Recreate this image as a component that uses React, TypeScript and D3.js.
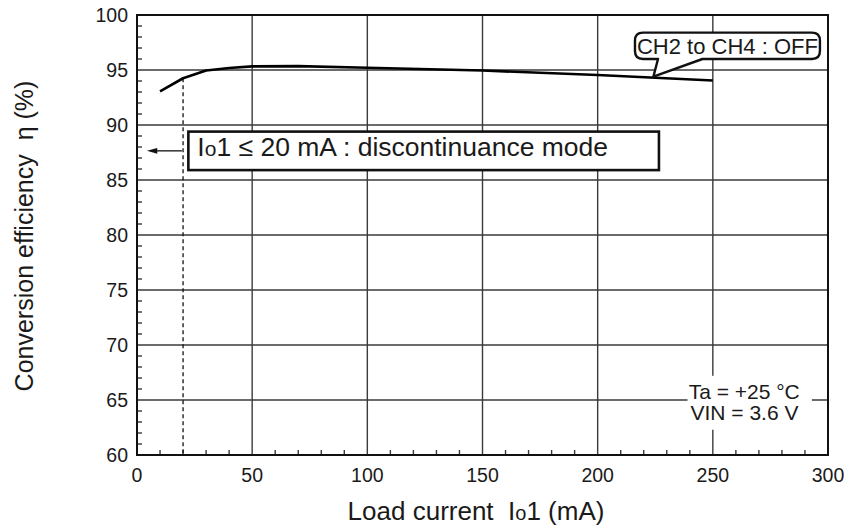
// D3.js — Conversion efficiency vs load current
import React from "react";
import * as d3 from "d3";

const loadCurrent = [10, 20, 30, 40, 50, 70, 100, 150, 200, 250];
const efficiency = [93.05, 94.25, 94.95, 95.18, 95.33, 95.35, 95.2, 94.95, 94.55, 94.05];

const xTicks = [0, 50, 100, 150, 200, 250, 300];
const yTicks = [60, 65, 70, 75, 80, 85, 90, 95, 100];
const xMinor = d3.range(10, 300, 10).filter(v => v % 50 !== 0);
const yMinor = d3.range(61, 100, 1).filter(v => v % 5 !== 0);

const FONT = "'Liberation Sans', Arial, Helvetica, sans-serif";

const App: React.FC = () => {
  const W = 852, H = 532;
  const margin = { top: 15, right: 24, bottom: 77, left: 137 };
  const innerW = W - margin.left - margin.right;
  const innerH = H - margin.top - margin.bottom;

  const x = d3.scaleLinear().domain([0, 300]).range([0, innerW]);
  const y = d3.scaleLinear().domain([60, 100]).range([innerH, 0]);

  const pts = loadCurrent.map((v, i) => ({ x: v, y: efficiency[i] }));
  const line = d3.line<{ x: number; y: number }>()
    .x(d => x(d.x)).y(d => y(d.y))
    .curve(d3.curveLinear);

  // callout "CH2 to CH4 : OFF"
  const cx0 = x(216.2), cx1 = x(296.5), cy0 = y(98.4), cy1 = y(96.0), r = 8;
  const tb1 = x(226.2), tb2 = x(245.5), ax = x(224.2), ay = y(94.4);
  const callout = `M${cx0 + r},${cy0} H${cx1 - r} Q${cx1},${cy0} ${cx1},${cy0 + r} V${cy1 - r} Q${cx1},${cy1} ${cx1 - r},${cy1} H${tb2} L${ax},${ay} L${tb1},${cy1} H${cx0 + r} Q${cx0},${cy1} ${cx0},${cy1 - r} V${cy0 + r} Q${cx0},${cy0} ${cx0 + r},${cy0} Z`;

  // mode box
  const bx0 = x(22.3), bx1 = x(226.6), by0 = y(89.4), by1 = y(85.9);
  const arrowY = y(87.65);

  const grid = "#3a3a3a";
  const txt = "#1a1a1a";

  return (
    <svg width={W} height={H} style={{ position: "absolute", left: 0, top: 0, background: "#fff" }}
      fontFamily={FONT}>
      <g transform={`translate(${margin.left},${margin.top})`}>
        {/* grid */}
        {yTicks.slice(1, -1).map(t => (
          <line key={"gy" + t} x1={0} x2={innerW} y1={y(t)} y2={y(t)} stroke={grid} strokeWidth={1.4} />
        ))}
        {xTicks.slice(1, -1).map(t => (
          <line key={"gx" + t} y1={0} y2={innerH} x1={x(t)} x2={x(t)} stroke={grid} strokeWidth={1.4} />
        ))}

        {/* minor ticks */}
        {yMinor.map(t => (
          <line key={"my" + t} x1={0} x2={5} y1={y(t)} y2={y(t)} stroke={grid} strokeWidth={1.4} />
        ))}
        {xMinor.map(t => (
          <line key={"mx" + t} x1={x(t)} x2={x(t)} y1={innerH} y2={innerH - 5} stroke={grid} strokeWidth={1.4} />
        ))}

        {/* conditions label */}
        <rect x={x(239)} y={y(67.2)} width={x(293) - x(239)} height={y(62.3) - y(67.2)} fill="#fff" />
        <text x={x(239.5)} y={y(65.1)} fontSize={21} fill={txt}>Ta = +25 °C</text>
        <text x={x(240.3)} y={y(63.15)} fontSize={21} fill={txt}>VIN = 3.6 V</text>

        {/* frame */}
        <rect x={0} y={0} width={innerW} height={innerH} fill="none" stroke="#111" strokeWidth={2} />

        {/* discontinuance boundary */}
        <line x1={x(20)} x2={x(20)} y1={y(94.25)} y2={innerH} stroke="#111" strokeWidth={1.3} strokeDasharray="4 3" />
        <line x1={x(19.5)} x2={x(8)} y1={arrowY} y2={arrowY} stroke="#111" strokeWidth={1.3} />
        <path d={`M${x(4.3)},${arrowY} L${x(8.8)},${arrowY - 2.8} L${x(8.8)},${arrowY + 2.8} Z`} fill="#111" />
        <rect x={bx0} y={by0} width={bx1 - bx0} height={by1 - by0} fill="#fff" stroke="#111" strokeWidth={2.6} />
        <text x={bx0 + 9} y={by0 + 24} fontSize={26.5} fill={txt}>
          I<tspan fontSize={21}>o</tspan>1 ≤ 20 mA : discontinuance mode
        </text>

        {/* efficiency curve */}
        <path d={line(pts) ?? ""} fill="none" stroke="#000" strokeWidth={2.6} strokeLinejoin="round" />

        {/* callout */}
        <path d={callout} fill="#fff" stroke="#111" strokeWidth={2.4} strokeLinejoin="round" />
        <text x={(cx0 + cx1) / 2} y={cy1 - 5} fontSize={22} textAnchor="middle" fill={txt}>CH2 to CH4 : OFF</text>

        {/* tick labels */}
        {yTicks.map(t => (
          <text key={"ty" + t} x={-9} y={y(t)} dy="0.35em" fontSize={19.5} textAnchor="end" fill={txt}>{t}</text>
        ))}
        {xTicks.map(t => (
          <text key={"tx" + t} x={x(t)} y={innerH + 27} fontSize={19.5} textAnchor="middle" fill={txt}>{t}</text>
        ))}
      </g>

      {/* axis titles */}
      <text x={476} y={520} fontSize={26} textAnchor="middle" fill={txt} style={{ whiteSpace: "pre" }}>
        {"Load current  I"}<tspan fontSize={20}>o</tspan>{"1 (mA)"}
      </text>
      <text transform="translate(33,236) rotate(-90)" fontSize={25} textAnchor="middle" fill={txt}
        style={{ whiteSpace: "pre" }}>
        {"Conversion efficiency  η (%)"}
      </text>
    </svg>
  );
};

export default App;
